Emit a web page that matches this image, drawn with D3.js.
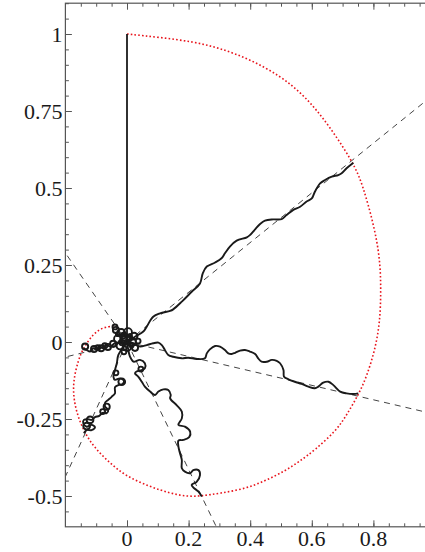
<!DOCTYPE html>
<html>
<head>
<meta charset="utf-8">
<script src="https://cdn.jsdelivr.net/npm/d3@7"></script>
<style>
  html, body { margin: 0; padding: 0; background: #fff; }
  svg { display: block; }
  text { font-family: "Liberation Serif", "Times New Roman", serif; font-size: 22px; fill: #1a1a1a; }
</style>
</head>
<body>
<svg id="chart" width="425" height="552"></svg>
<script>
// ---------------- data ----------------
const xMajorTicks = [0, 0.2, 0.4, 0.6, 0.8];
const xTickLabels = ["0", "0.2", "0.4", "0.6", "0.8"];
const yMajorTicks = [1, 0.75, 0.5, 0.25, 0, -0.25, -0.5];
const yTickLabels = ["1", "0.75", "0.5", "0.25", "0", "-0.25", "-0.5"];

// vertical arm
const armVertical = [[0, 0], [0, 1]];

// upper-right arm
const armUpperRight = [[0,0],[0.026,0.017],[0.053,0.034],[0.064,0.050],[0.085,0.082],[0.107,0.093],[0.140,0.101],[0.150,0.106],[0.178,0.131],[0.210,0.163],[0.237,0.190],[0.246,0.223],[0.259,0.245],[0.286,0.258],[0.307,0.272],[0.318,0.288],[0.334,0.310],[0.356,0.329],[0.389,0.340],[0.399,0.347],[0.416,0.366],[0.432,0.383],[0.448,0.394],[0.475,0.398],[0.502,0.399],[0.518,0.412],[0.540,0.429],[0.562,0.439],[0.583,0.456],[0.600,0.466],[0.610,0.488],[0.627,0.515],[0.643,0.526],[0.665,0.537],[0.686,0.542],[0.697,0.548],[0.713,0.564],[0.735,0.582]];

// right arm
const armRight = [[0,0],[0.021,-0.004],[0.042,-0.015],[0.064,-0.010],[0.085,-0.004],[0.102,-0.002],[0.113,-0.010],[0.123,-0.026],[0.134,-0.042],[0.150,-0.048],[0.178,-0.053],[0.199,-0.051],[0.226,-0.055],[0.253,-0.053],[0.259,-0.037],[0.269,-0.024],[0.286,-0.013],[0.302,-0.015],[0.318,-0.026],[0.329,-0.037],[0.340,-0.039],[0.351,-0.035],[0.367,-0.028],[0.383,-0.026],[0.399,-0.031],[0.416,-0.039],[0.426,-0.053],[0.437,-0.064],[0.454,-0.064],[0.470,-0.058],[0.486,-0.061],[0.497,-0.069],[0.508,-0.091],[0.510,-0.113],[0.524,-0.121],[0.545,-0.129],[0.567,-0.136],[0.589,-0.145],[0.610,-0.150],[0.621,-0.145],[0.637,-0.132],[0.654,-0.129],[0.670,-0.140],[0.692,-0.161],[0.713,-0.167],[0.735,-0.169],[0.751,-0.167]];

// downward arm
const armDown = [[0,0],[0.010,-0.048],[0.021,-0.064],[0.042,-0.058],[0.058,-0.069],[0.058,-0.085],[0.048,-0.091],[0.031,-0.096],[0.026,-0.102],[0.037,-0.113],[0.048,-0.129],[0.058,-0.145],[0.075,-0.161],[0.091,-0.172],[0.102,-0.161],[0.118,-0.154],[0.134,-0.156],[0.142,-0.172],[0.140,-0.183],[0.161,-0.205],[0.178,-0.226],[0.178,-0.248],[0.167,-0.269],[0.188,-0.275],[0.205,-0.291],[0.202,-0.309],[0.183,-0.318],[0.167,-0.320],[0.167,-0.340],[0.172,-0.361],[0.178,-0.383],[0.178,-0.410],[0.188,-0.421],[0.205,-0.426],[0.215,-0.416],[0.232,-0.416],[0.237,-0.432],[0.226,-0.454],[0.210,-0.464],[0.215,-0.472],[0.232,-0.486],[0.243,-0.502]];

// lower-left arm
const armLowerLeft = [[0,0],[-0.028,-0.042],[-0.033,-0.069],[-0.039,-0.091],[-0.044,-0.113],[-0.039,-0.123],[-0.023,-0.118],[-0.010,-0.126],[-0.014,-0.136],[-0.028,-0.140],[-0.039,-0.147],[-0.039,-0.167],[-0.050,-0.178],[-0.061,-0.188],[-0.071,-0.197],[-0.071,-0.210],[-0.061,-0.221],[-0.066,-0.231],[-0.079,-0.230],[-0.090,-0.240],[-0.104,-0.244],[-0.115,-0.253],[-0.126,-0.251],[-0.140,-0.253],[-0.142,-0.264],[-0.131,-0.275],[-0.115,-0.269],[-0.104,-0.277],[-0.115,-0.286],[-0.131,-0.286],[-0.140,-0.296]];

// left arm
const armLeft = [[0,0],[-0.039,-0.004],[-0.055,-0.015],[-0.066,-0.010],[-0.077,-0.020],[-0.088,-0.015],[-0.098,-0.026],[-0.109,-0.020],[-0.120,-0.031],[-0.131,-0.026],[-0.140,-0.020]];

// small loops (bubbles) along the arms: [x, y, r]
const loops = [[-0.017,-0.129,0.011],[-0.066,-0.210,0.010],[-0.079,-0.226,0.008],[-0.120,-0.253,0.011],[-0.131,-0.273,0.011],
  [-0.036,-0.100,0.008],[0.045,-0.088,0.008],
  [-0.136,-0.015,0.010],[-0.107,-0.023,0.010],[-0.095,-0.018,0.008],[-0.084,-0.020,0.010],[-0.062,-0.016,0.010],[-0.072,-0.012,0.008]];

// dense central cluster of loops: [x, y, r]
const cluster = [[-0.036,0.039,0.010],[-0.019,0.029,0.013],[0.003,0.032,0.013],[0.023,0.019,0.011],
  [-0.029,0.010,0.013],[-0.006,0.010,0.016],[0.016,0.000,0.013],[-0.023,-0.013,0.011],
  [0.000,-0.016,0.013],[0.026,-0.019,0.010],[-0.045,-0.006,0.010],[-0.010,-0.032,0.008],
  [0.036,0.003,0.008],[-0.039,0.049,0.008],[-0.012,0.020,0.009],[0.008,0.012,0.009],[-0.016,-0.002,0.009],
  [-0.010,0.025,0.006],[0.010,0.020,0.006],[-0.020,0.000,0.006],[0.005,-0.005,0.006],
  [-0.030,0.025,0.006],[0.015,-0.012,0.006],[-0.008,-0.020,0.006],[-0.002,0.002,0.005]];

// dashed rays from the origin (angles in degrees)
const rayAngles = [38.9, -13.2, -64.2, -114.6, -166.3, 124.7];

// red dotted spiral
const spiral = [[0,1.0],[0.107,0.989],[0.215,0.975],[0.302,0.954],[0.399,0.918],[0.497,0.864],[0.562,0.812],[0.632,0.737],[0.735,0.585],[0.767,0.504],[0.800,0.385],[0.821,0.277],[0.825,0.169],[0.821,0.061],[0.805,-0.026],[0.778,-0.113],[0.751,-0.172],[0.713,-0.237],[0.681,-0.286],[0.610,-0.351],[0.562,-0.386],[0.513,-0.419],[0.448,-0.451],[0.383,-0.477],[0.302,-0.491],[0.243,-0.500],[0.194,-0.502],[0.140,-0.491],[0.075,-0.470],[-0.001,-0.437],[-0.055,-0.394],[-0.109,-0.340],[-0.142,-0.286],[-0.163,-0.231],[-0.174,-0.178],[-0.174,-0.123],[-0.158,-0.058],[-0.142,-0.020],[-0.109,0.028],[-0.077,0.048],[-0.044,0.052]];

// ---------------- drawing ----------------
const xDomain = [-0.2, 1.0], yDomain = [-0.6, 1.1];
const x = d3.scaleLinear().domain(xDomain).range([65.4, 435]);
const y = d3.scaleLinear().domain(yDomain).range([526.8, 3.2]);
const svg = d3.select("#chart");

svg.append("defs").append("clipPath").attr("id", "clip")
  .append("rect").attr("x", x(xDomain[0])).attr("y", y(yDomain[1]))
  .attr("width", x(xDomain[1]) - x(xDomain[0])).attr("height", y(yDomain[0]) - y(yDomain[1]));

const plot = svg.append("g").attr("clip-path", "url(#clip)");

// dashed rays
rayAngles.forEach(a => {
  const c = Math.cos(a * Math.PI / 180), s = Math.sin(a * Math.PI / 180);
  const tx = c > 0 ? xDomain[1] / c : xDomain[0] / c;
  const ty = s > 0 ? yDomain[1] / s : yDomain[0] / s;
  const t = Math.min(tx, ty);
  plot.append("line")
    .attr("x1", x(0)).attr("y1", y(0))
    .attr("x2", x(c * t)).attr("y2", y(s * t))
    .attr("stroke", "#444").attr("stroke-width", 1)
    .attr("stroke-dasharray", "6,5");
});

// red dotted spiral
const smooth = d3.line().x(d => x(d[0])).y(d => y(d[1])).curve(d3.curveBasis);
plot.append("path").attr("d", smooth(spiral))
  .attr("fill", "none").attr("stroke", "#e8141c").attr("stroke-width", 1.6)
  .attr("stroke-dasharray", "1.6,2.2");

// arms
const armLine = d3.line().x(d => x(d[0])).y(d => y(d[1])).curve(d3.curveCatmullRom.alpha(0.5));
[armUpperRight, armRight, armDown, armLowerLeft, armLeft].forEach(arm => {
  plot.append("path").attr("d", armLine(arm))
    .attr("fill", "none").attr("stroke", "#1a1a1a").attr("stroke-width", 1.9)
    .attr("stroke-linejoin", "round");
});
plot.append("path").attr("d", d3.line().x(d => x(d[0])).y(d => y(d[1]))(armVertical))
  .attr("fill", "none").attr("stroke", "#1a1a1a").attr("stroke-width", 1.8);

plot.selectAll("circle.loop").data(loops.concat(cluster)).join("circle").attr("class", "loop")
  .attr("cx", d => x(d[0])).attr("cy", d => y(d[1]))
  .attr("r", d => x(d[2]) - x(0))
  .attr("fill", "none").attr("stroke", "#1a1a1a").attr("stroke-width", 1.9);

// frame and ticks
const frame = svg.append("g");
const xMinor = d3.range(-0.15, 1.0001, 0.05).map(v => +v.toFixed(2));
const yMinor = d3.range(-0.55, 1.1001, 0.05).map(v => +v.toFixed(2));

function styleAxis(g) {
  g.select(".domain").remove();
  g.selectAll(".tick line").attr("stroke", "#555").attr("stroke-width", 1);
}
frame.append("g").attr("transform", `translate(0,${y(yDomain[0])})`)
  .call(d3.axisBottom(x).tickValues(xMinor).tickSize(-3.5).tickFormat(""))
  .call(styleAxis);
frame.append("g").attr("transform", `translate(0,${y(yDomain[0])})`)
  .call(d3.axisBottom(x).tickValues(xMajorTicks).tickSize(-6.5).tickFormat(""))
  .call(styleAxis);
frame.append("g").attr("transform", `translate(0,${y(yDomain[1])})`)
  .call(d3.axisTop(x).tickValues(xMinor).tickSize(-3.5).tickFormat(""))
  .call(styleAxis);
frame.append("g").attr("transform", `translate(0,${y(yDomain[1])})`)
  .call(d3.axisTop(x).tickValues(xMajorTicks).tickSize(-6.5).tickFormat(""))
  .call(styleAxis);
frame.append("g").attr("transform", `translate(${x(xDomain[0])},0)`)
  .call(d3.axisLeft(y).tickValues(yMinor).tickSize(-3.5).tickFormat(""))
  .call(styleAxis);
frame.append("g").attr("transform", `translate(${x(xDomain[0])},0)`)
  .call(d3.axisLeft(y).tickValues(yMajorTicks).tickSize(-6.5).tickFormat(""))
  .call(styleAxis);

frame.append("rect")
  .attr("x", x(xDomain[0])).attr("y", y(yDomain[1]))
  .attr("width", x(xDomain[1]) - x(xDomain[0])).attr("height", y(yDomain[0]) - y(yDomain[1]))
  .attr("fill", "none").attr("stroke", "#555").attr("stroke-width", 1.2);

// labels
svg.append("g").selectAll("text").data(xMajorTicks).join("text")
  .attr("x", d => x(d)).attr("y", y(yDomain[0]) + 19.5)
  .attr("text-anchor", "middle")
  .text((d, i) => xTickLabels[i]);
svg.append("g").selectAll("text").data(yMajorTicks).join("text")
  .attr("x", x(xDomain[0]) - 3).attr("y", d => y(d) + 7.5)
  .attr("text-anchor", "end")
  .text((d, i) => yTickLabels[i]);
</script>
</body>
</html>
